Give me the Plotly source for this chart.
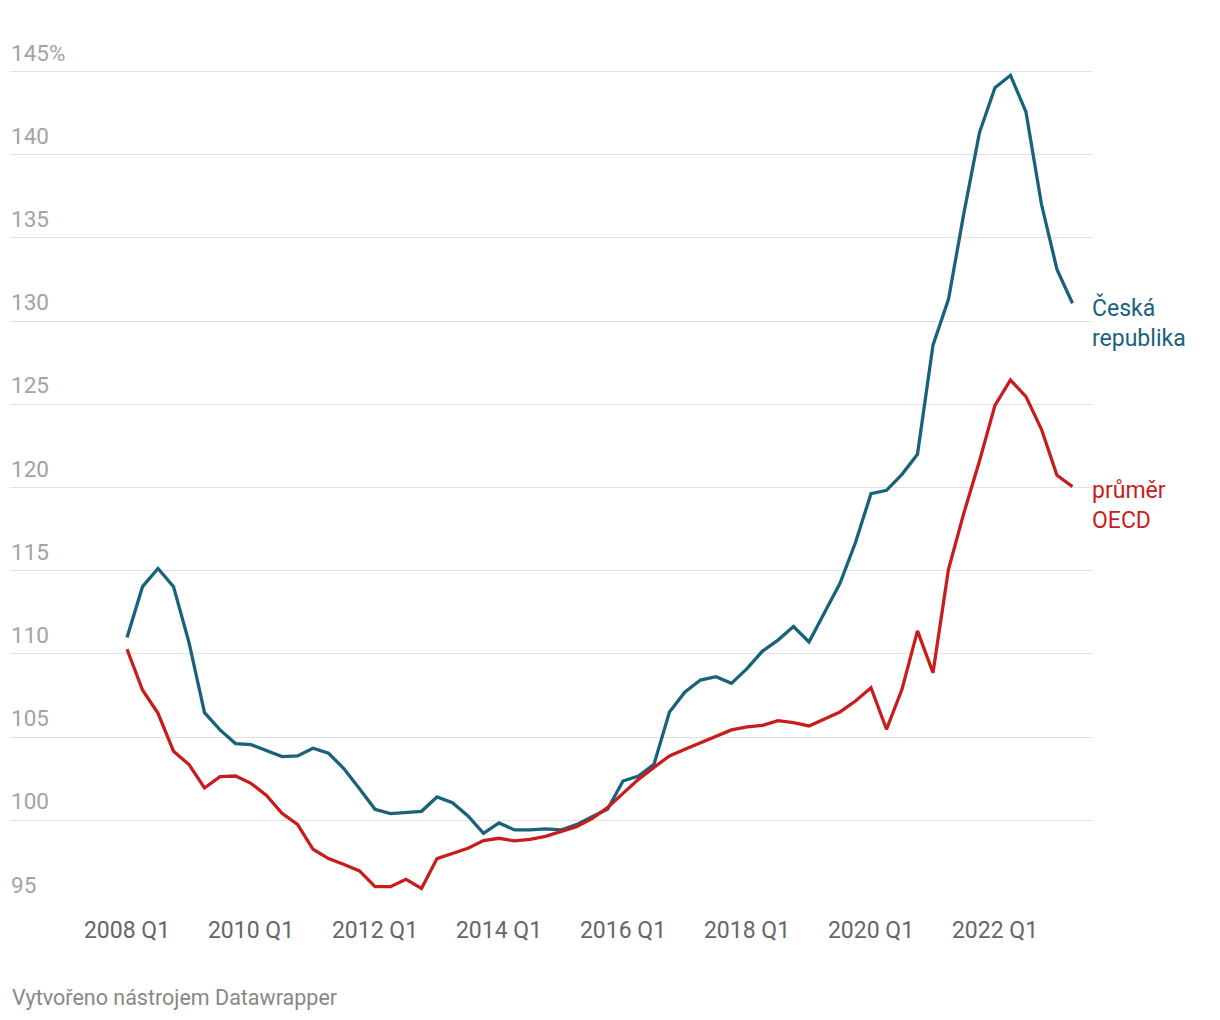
import plotly.graph_objects as go

quarters = [f"{y} Q{q}" for y in range(2008, 2024) for q in range(1, 5)][:62]

czech = [110.98, 114.04, 115.13, 114.04, 110.68, 106.47, 105.43, 104.61, 104.55, 104.19,
         103.83, 103.87, 104.33, 104.03, 103.10, 101.90, 100.66, 100.40, 100.46, 100.54,
         101.40, 101.06, 100.26, 99.22, 99.84, 99.42, 99.42, 99.48, 99.42, 99.74,
         100.22, 100.66, 102.36, 102.66, 103.37, 106.51, 107.71, 108.43, 108.63, 108.23,
         109.11, 110.17, 110.83, 111.64, 110.72, 112.48, 114.24, 116.69, 119.63, 119.83,
         120.79, 122.00, 128.55, 131.31, 136.52, 141.33, 144.03, 144.77, 142.57, 137.02,
         133.11, 131.07]

oecd = [110.28, 107.83, 106.43, 104.15, 103.35, 101.94, 102.62, 102.66, 102.22, 101.50,
        100.42, 99.76, 98.26, 97.70, 97.34, 96.96, 96.01, 96.01, 96.45, 95.90,
        97.70, 98.00, 98.32, 98.78, 98.92, 98.76, 98.86, 99.04, 99.32, 99.62,
        100.10, 100.76, 101.62, 102.46, 103.18, 103.87, 104.27, 104.67, 105.07, 105.43,
        105.61, 105.71, 105.99, 105.87, 105.67, 106.11, 106.51, 107.17, 107.97, 105.47,
        107.87, 111.38, 108.87, 115.08, 118.49, 121.59, 124.94, 126.46, 125.46, 123.50,
        120.73, 120.05]

series_names = ["Česká<br>republika", "průměr<br>OECD"]
colors = ["#18627c", "#c71e1d"]

y_ticks = [95, 100, 105, 110, 115, 120, 125, 130, 135, 140, 145]
y_ticktext = [str(v) for v in y_ticks[:-1]] + ["145%"]
x_ticks = ["2008 Q1", "2010 Q1", "2012 Q1", "2014 Q1", "2016 Q1", "2018 Q1", "2020 Q1", "2022 Q1"]

font_family = "Roboto, 'Noto Sans', sans-serif"

fig = go.Figure()
for name, vals, col in zip(series_names, [czech, oecd], colors):
    fig.add_trace(go.Scatter(x=quarters, y=vals, mode="lines",
                             line=dict(color=col, width=3.3), hoverinfo="skip",
                             showlegend=False))
    fig.add_annotation(x=1, xref="paper", y=vals[-1], yref="y", text=name,
                       showarrow=False, xanchor="left", yanchor="middle",
                       align="left", xshift=-2, yshift=-19,
                       font=dict(family=font_family, size=23, color=col))

# plot area: 865 px tall (39..904), footer centre at 997 px
plot_h = 904 - 39
fig.add_annotation(x=0, xref="paper", y=-(997 - 904) / plot_h, yref="paper",
                   text="Vytvořeno nástrojem Datawrapper",
                   showarrow=False, xanchor="left", yanchor="middle",
                   font=dict(family=font_family, size=21.5, color="#888888"))

fig.update_layout(
    width=1212, height=1012,
    margin=dict(l=2, r=128, t=31, b=116),
    paper_bgcolor="white", plot_bgcolor="white",
    font=dict(family=font_family),
    xaxis=dict(type="category", range=[-7.55, 62.26], tickvals=x_ticks, ticktext=x_ticks,
               showgrid=False, zeroline=False, showline=False, ticks="",
               tickfont=dict(size=23, color="#666666"), ticklabelstandoff=10),
    yaxis=dict(range=[94.97, 94.97 + plot_h / 16.64], tickvals=y_ticks, ticktext=y_ticktext,
               showgrid=True, gridcolor="#e1e1e1", gridwidth=1.4, zeroline=False,
               showline=False, ticks="", ticklabelposition="inside top",
               ticklabelstandoff=-2, ticklabelshift=-3,
               tickfont=dict(size=22.5, color="#a3a3a3")),
)

fig.write_html("out.html")
